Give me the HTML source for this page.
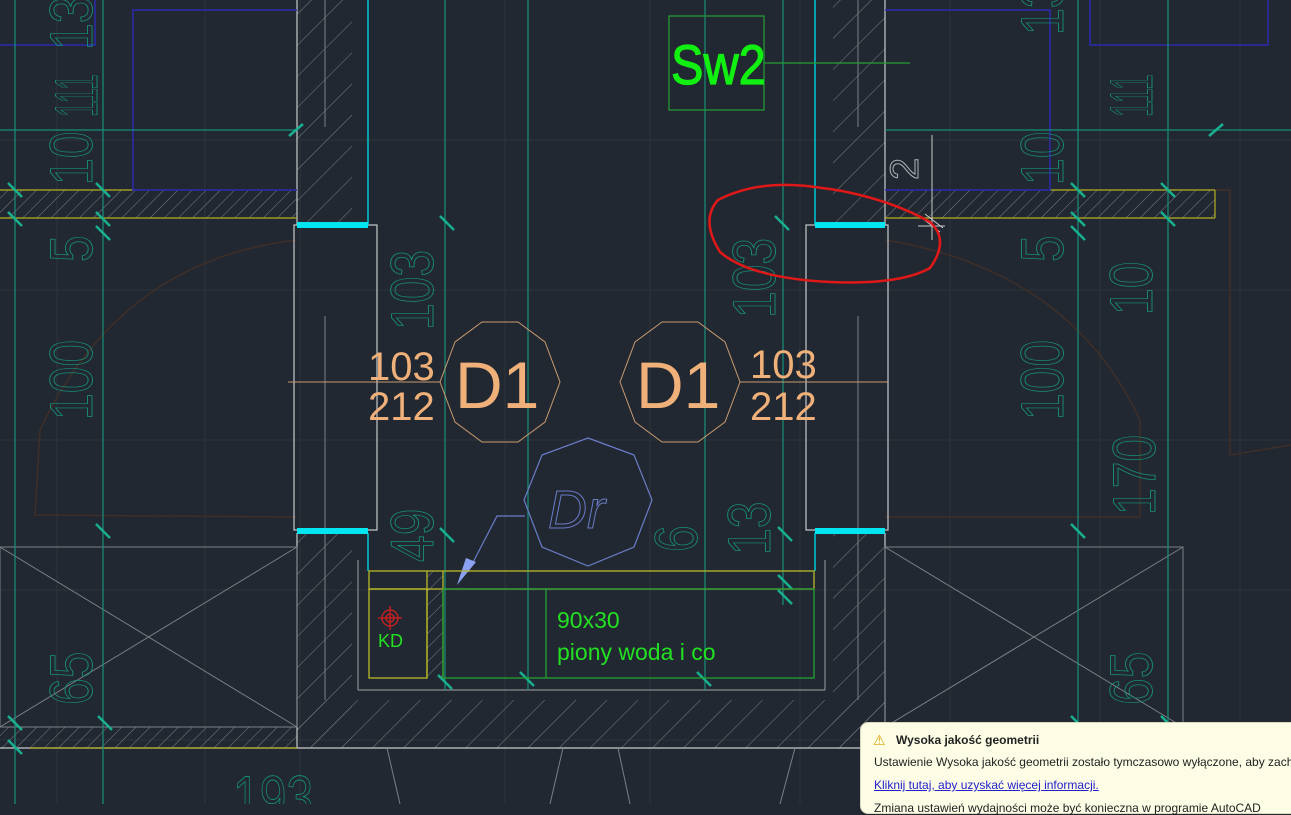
<!DOCTYPE html>
<html><head><meta charset="utf-8"><style>
html,body{margin:0;padding:0;background:#222831;overflow:hidden}
svg{display:block}
.t{font-family:"Liberation Sans",sans-serif}
#note{position:absolute;left:860px;top:722px;width:440px;height:90px;background:#fdfde6;border:1px solid #d8d8c0;border-radius:8px;font-family:"Liberation Sans",sans-serif;font-size:12px;color:#222}
</style></head><body>
<svg width="1291" height="804" viewBox="0 0 1291 804" xmlns="http://www.w3.org/2000/svg">
<defs>
<pattern id="h" patternUnits="userSpaceOnUse" width="10" height="10" patternTransform="rotate(45)"><line x1="0" y1="0" x2="0" y2="10" stroke="#7a7f86" stroke-width="1"/></pattern>
<pattern id="hw" patternUnits="userSpaceOnUse" width="22" height="22" patternTransform="rotate(45)"><line x1="0" y1="0" x2="0" y2="22" stroke="#7a7f86" stroke-width="1"/></pattern>
</defs>
<rect width="1291" height="804" fill="#222831"/>
<g stroke="#2c333c" stroke-width="1">
<line x1="0" y1="140" x2="1291" y2="140"/><line x1="0" y1="290" x2="1291" y2="290"/><line x1="0" y1="440" x2="1291" y2="440"/><line x1="0" y1="590" x2="1291" y2="590"/><line x1="0" y1="740" x2="1291" y2="740"/>
<line x1="57" y1="0" x2="57" y2="804"/><line x1="205" y1="0" x2="205" y2="804"/><line x1="300" y1="0" x2="300" y2="804"/><line x1="505" y1="0" x2="505" y2="804"/><line x1="650" y1="0" x2="650" y2="804"/><line x1="800" y1="0" x2="800" y2="804"/><line x1="950" y1="0" x2="950" y2="804"/><line x1="1100" y1="0" x2="1100" y2="804"/><line x1="1240" y1="0" x2="1240" y2="804"/>
</g>
<g stroke="#3e2f28" stroke-width="1.5" fill="none">
<path d="M297 240 Q120 260 40 430 L35 515 L297 517"/>
<path d="M885 240 Q1070 270 1140 420 L1140 517 L885 517"/>
<path d="M1215 190 L1230 190 L1230 455 L1291 445"/>
</g>
<rect x="297" y="0" width="55" height="225" fill="url(#hw)"/>
<rect x="833" y="0" width="52" height="225" fill="url(#hw)"/>
<rect x="0" y="190" width="297" height="28" fill="url(#h)"/>
<rect x="885" y="190" width="330" height="28" fill="url(#h)"/>
<rect x="297" y="533" width="55" height="215" fill="url(#hw)"/>
<rect x="833" y="533" width="52" height="215" fill="url(#hw)"/>
<rect x="297" y="700" width="588" height="48" fill="url(#hw)"/>
<rect x="0" y="727" width="297" height="21" fill="url(#h)"/>
<rect x="885" y="727" width="330" height="21" fill="url(#h)"/>
<g stroke="#c8cacc" stroke-width="1.2" fill="none">
<line x1="297" y1="0" x2="297" y2="225"/><line x1="885" y1="0" x2="885" y2="225"/>
<line x1="297" y1="533" x2="297" y2="748"/><line x1="885" y1="533" x2="885" y2="748"/>
<rect x="294" y="225" width="83" height="305"/><rect x="806" y="225" width="82" height="305"/>
<line x1="0" y1="748" x2="1291" y2="748"/>
<line x1="358" y1="690" x2="825" y2="690" stroke="#8a8d90"/>
<line x1="358" y1="560" x2="358" y2="690" stroke="#8a8d90"/><line x1="825" y1="560" x2="825" y2="690" stroke="#8a8d90"/>
</g>
<g stroke="#7a7f86" stroke-width="1" fill="none">
<rect x="0" y="547" width="297" height="180"/><line x1="0" y1="547" x2="297" y2="727"/><line x1="0" y1="727" x2="297" y2="547"/>
<rect x="885" y="547" width="298" height="180"/><line x1="885" y1="547" x2="1183" y2="727"/><line x1="885" y1="727" x2="1183" y2="547"/>
<line x1="325" y1="0" x2="325" y2="127"/><line x1="325" y1="316" x2="325" y2="700"/>
<line x1="858" y1="0" x2="858" y2="127"/><line x1="858" y1="316" x2="858" y2="700"/>
<path d="M387 748 L400 804 M563 748 L550 804 M618 748 L630 804 M795 748 L780 804"/>
</g>
<g stroke="#b5b020" stroke-width="1.2">
<line x1="0" y1="190" x2="133" y2="190"/><line x1="0" y1="218" x2="297" y2="218"/>
<line x1="1050" y1="190" x2="1215" y2="190"/><line x1="885" y1="218" x2="1215" y2="218"/>
<line x1="1215" y1="190" x2="1215" y2="218"/>
<line x1="30" y1="748" x2="297" y2="748"/>
</g>
<g stroke="#2a2ab0" stroke-width="1.5" fill="none">
<path d="M0 45 L95 45 L95 0"/>
<path d="M297 10 L133 10 L133 190 L297 190"/>
<path d="M885 10 L1050 10 L1050 190 L885 190"/>
<path d="M1090 0 L1090 45 L1268 45 L1268 0"/>
</g>
<g stroke="#00c8d8" stroke-width="1.5">
<line x1="368" y1="0" x2="368" y2="225"/><line x1="815" y1="0" x2="815" y2="225"/>
<line x1="368" y1="533" x2="368" y2="571"/><line x1="815" y1="533" x2="815" y2="571"/>
</g>
<g fill="#00e5f0">
<rect x="297" y="222" width="71" height="6"/><rect x="815" y="222" width="70" height="6"/>
<rect x="297" y="528" width="71" height="6"/><rect x="815" y="528" width="70" height="6"/>
</g>
<g stroke="#17907a" stroke-width="1.2">
<line x1="15" y1="0" x2="15" y2="804"/><line x1="103" y1="0" x2="103" y2="804"/>
<line x1="445" y1="0" x2="445" y2="690"/><line x1="528" y1="0" x2="528" y2="690"/>
<line x1="705" y1="0" x2="705" y2="690"/><line x1="783" y1="0" x2="783" y2="605"/>
<line x1="1078" y1="0" x2="1078" y2="804"/><line x1="1168" y1="0" x2="1168" y2="727"/>
<line x1="0" y1="130" x2="297" y2="130"/><line x1="885" y1="130" x2="1291" y2="130"/>
</g>
<g stroke="#18b090" stroke-width="2.5">
<path d="M8 183l14 14M8 212l14 14M96 183l14 14M96 212l14 14M96 226l14 14M289 136l14-12M440 216l14 14M775 216l14 14M1071 183l14 14M1071 212l14 14M1071 226l14 14M1161 183l14 14M1161 212l14 14M1209 136l14-12M96 524l14 14M1071 524l14 14M98 716l14 14M8 716l14 14M8 740l14 14M1161 716l14 14M1071 716l14 14M440 528l14 14M778 527l14 14M778 575l14 14M778 590l14 14M438 675l14 14M520 672l14 14M697 672l14 14"/>
</g>
<g class="t" fill="none" stroke="#17907a" stroke-width="0.9" font-size="60">
<text transform="translate(97,117) rotate(-90) scale(0.47,1)">111</text>
<text transform="translate(92,185) rotate(-90) scale(0.8,1)">10</text>
<text transform="translate(92,50) rotate(-90) scale(0.8,1)">134</text>
<text transform="translate(92,262) rotate(-90) scale(0.8,1)">5</text>
<text transform="translate(92,420) rotate(-90) scale(0.8,1)">100</text>
<text transform="translate(92,705) rotate(-90) scale(0.8,1)">65</text>
<text transform="translate(433,330) rotate(-90) scale(0.8,1)">103</text>
<text transform="translate(775,318) rotate(-90) scale(0.8,1)">103</text>
<text transform="translate(433,562) rotate(-90) scale(0.8,1)">49</text>
<text transform="translate(697,552) rotate(-90) scale(0.8,1)">6</text>
<text transform="translate(770,555) rotate(-90) scale(0.8,1)">13</text>
<text transform="translate(1063,35) rotate(-90) scale(0.8,1)">135</text>
<text transform="translate(1063,185) rotate(-90) scale(0.8,1)">10</text>
<text transform="translate(1152,117) rotate(-90) scale(0.47,1)">111</text>
<text transform="translate(1063,262) rotate(-90) scale(0.8,1)">5</text>
<text transform="translate(1152,315) rotate(-90) scale(0.8,1)">10</text>
<text transform="translate(1063,420) rotate(-90) scale(0.8,1)">100</text>
<text transform="translate(1155,515) rotate(-90) scale(0.8,1)">170</text>
<text transform="translate(1152,705) rotate(-90) scale(0.8,1)">65</text>
<text transform="translate(233,818) scale(0.8,1)">193</text>
</g>
<text class="t" transform="translate(918,180) rotate(-90)" fill="none" stroke="#b0b4b8" stroke-width="1" font-size="40">2</text>
<g stroke="#c8cacc" stroke-width="1"><line x1="932" y1="135" x2="932" y2="240"/><line x1="918" y1="226" x2="945" y2="226"/><path d="M922 218l18 14M925 214l18 14"/></g>
<g stroke="#c89a70" stroke-width="1" fill="none">
<line x1="288" y1="382" x2="440" y2="382"/><line x1="740" y1="382" x2="888" y2="382"/>
<polygon points="482,322 518,322 545,342 560,382 545,422 518,442 482,442 455,422 440,382 455,342"/>
<polygon points="662,322 698,322 725,342 740,382 725,422 698,442 662,442 635,422 620,382 635,342"/>
</g>
<g class="t" fill="#f0b07a">
<text x="368" y="380" font-size="40">103</text><text x="368" y="420" font-size="40">212</text>
<text x="750" y="378" font-size="40">103</text><text x="750" y="420" font-size="40">212</text>
<text x="455" y="408" font-size="66">D1</text><text x="636" y="408" font-size="66">D1</text>
</g>
<g stroke="#6a7cc8" stroke-width="1.2" fill="none">
<polygon points="588,438 634,455 652,500 634,547 588,566 542,547 524,500 542,455"/>
<path d="M525 516 L497 516 L468 572"/>
</g>
<polygon points="457,585 476,562 466,558" fill="#8aa0f0"/>
<text class="t" x="548" y="528" font-size="54" font-style="italic" fill="none" stroke="#6a7cc8" stroke-width="1">Dr</text>
<rect x="427" y="571" width="16" height="107" fill="url(#h)"/>
<g stroke="#b8b828" stroke-width="1.3" fill="none">
<rect x="369" y="571" width="445" height="18"/><rect x="369" y="589" width="58" height="89"/><line x1="427" y1="571" x2="427" y2="678"/><line x1="443" y1="571" x2="443" y2="678"/>
</g>
<g stroke="#22a032" stroke-width="1.3" fill="none">
<rect x="443" y="589" width="371" height="89"/><line x1="546" y1="589" x2="546" y2="678"/>
</g>
<g stroke="#d02020" stroke-width="1.3" fill="none"><circle cx="390" cy="618" r="8"/><circle cx="390" cy="618" r="4"/><line x1="378" y1="618" x2="402" y2="618"/><line x1="390" y1="606" x2="390" y2="630"/></g>
<g class="t" fill="#22e022">
<text x="378" y="647" font-size="18">KD</text>
<text x="557" y="628" font-size="23">90x30</text>
<text x="557" y="660" font-size="23">piony woda i co</text>
</g>
<rect x="669" y="16" width="95" height="94" fill="none" stroke="#22a032" stroke-width="1.2"/>
<line x1="764" y1="63" x2="910" y2="63" stroke="#22a032" stroke-width="1.2"/>
<text class="t" transform="translate(671,84) scale(0.87,1)" font-size="56" fill="#11f011" stroke="#11f011" stroke-width="1.2">Sw2</text>
<path d="M822 188 Q760 178 718 200 Q700 220 720 252 Q750 278 830 282 Q900 285 930 268 Q950 240 930 222 Q900 205 860 195 Q840 190 822 188" fill="none" stroke="#e01818" stroke-width="2.5"/>
</svg>
<div id="note">
<div style="position:absolute;left:12px;top:9px;font-size:14px;color:#d8a000">&#9888;</div>
<div style="position:absolute;left:35px;top:10px;font-weight:bold">Wysoka jakość geometrii</div>
<div style="position:absolute;left:13px;top:32px;white-space:nowrap">Ustawienie Wysoka jakość geometrii zostało tymczasowo wyłączone, aby zachować</div>
<div style="position:absolute;left:13px;top:55px;color:#2222cc;text-decoration:underline">Kliknij tutaj, aby uzyskać więcej informacji.</div>
<div style="position:absolute;left:13px;top:78px;white-space:nowrap">Zmiana ustawień wydajności może być konieczna w programie AutoCAD</div>
</div>
</body></html>
